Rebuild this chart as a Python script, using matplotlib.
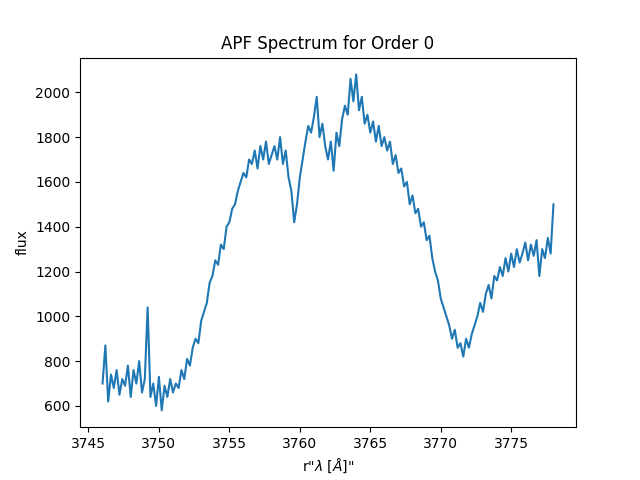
import matplotlib
matplotlib.use("Agg")
import matplotlib.pyplot as plt
import numpy as np

flux = [700, 870, 620, 740, 680, 760, 650, 720, 690, 780, 640,
        760, 700, 800, 660, 720, 1040, 640, 700, 600, 730,
        580, 690, 640, 720, 660, 700, 680, 760, 720, 810,
        780, 860, 900, 880, 980, 1020, 1060, 1150, 1180, 1250,
        1230, 1320, 1300, 1400, 1420, 1480, 1500, 1560, 1600, 1640,
        1620, 1700, 1680, 1740, 1660, 1760, 1700, 1780, 1680, 1720,
        1760, 1700, 1800, 1680, 1740, 1620, 1560, 1420, 1500, 1620,
        1700, 1780, 1850, 1820, 1890, 1980, 1800, 1860, 1760, 1700,
        1780, 1650, 1820, 1760, 1880, 1940, 1900, 2060, 1960, 2080,
        1920, 1980, 1860, 1900, 1820, 1870, 1780, 1850, 1760, 1800,
        1740, 1780, 1680, 1720, 1640, 1660, 1580, 1600, 1500, 1540,
        1460, 1480, 1400, 1420, 1340, 1360, 1260, 1200, 1160, 1080,
        1040, 1000, 960, 900, 940, 860, 880, 820, 900, 860,
        920, 960, 1000, 1060, 1020, 1100, 1140, 1080, 1180, 1160,
        1220, 1180, 1260, 1200, 1280, 1220, 1300, 1240, 1280, 1330,
        1250, 1320, 1270, 1340, 1180, 1300, 1260, 1350, 1280, 1500]
wave = np.linspace(3746.0, 3778.0, len(flux))

fig, ax = plt.subplots(figsize=(6.4, 4.8), dpi=100)
ax.plot(wave, flux)
ax.set_title('APF Spectrum for Order 0')
ax.set_xlabel(r'r"$\lambda$ [$\AA$]"')
ax.set_ylabel('flux')
fig.savefig('out.png')
